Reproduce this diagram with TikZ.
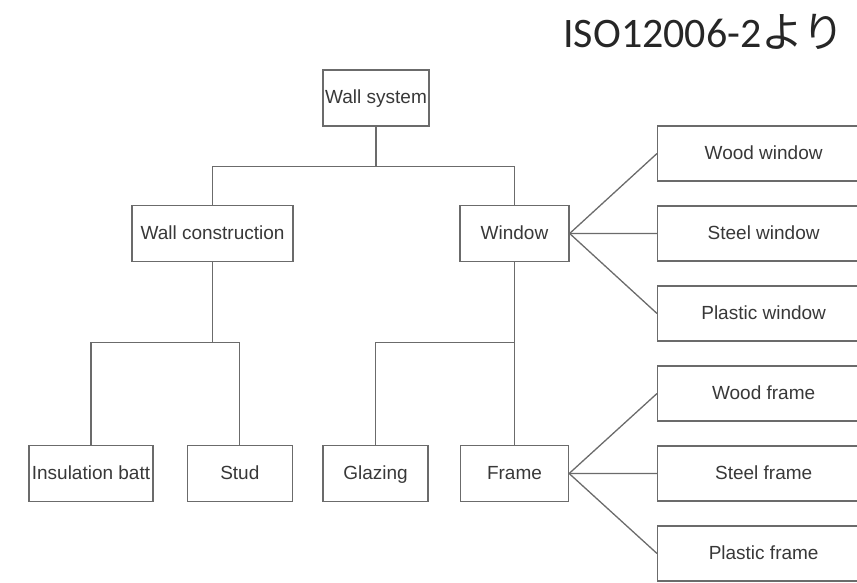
\documentclass[tikz,border=0pt]{standalone}
\usepackage{fontspec}
\setmainfont{Liberation Sans}
\newfontfamily\titlefont{Carlito}
\newfontfamily\jpfont{Noto Sans CJK JP}
\usetikzlibrary{positioning,calc}
\colorlet{boxline}{black!58}
\colorlet{boxtext}{black!78}
\tikzset{
  partbox/.style={draw=boxline, line width=1.3pt, text=boxtext, inner sep=0pt,
    font=\fontsize{19}{22}\selectfont, text height=15pt, text depth=3pt,
    minimum height=56pt},
  sidebox/.style={partbox, minimum width=212pt, minimum height=55pt},
  partline/.style={draw=boxline, line width=1.3pt}
}
\begin{document}
\begin{tikzpicture}[x=1pt, y=1pt]
    \useasboundingbox (0,0) rectangle (857,-583);
    \clip (0,0) rectangle (857,-583);
    \node[anchor=base east, inner sep=0pt, text=black!85] (title) at (845,-48)
      {\titlefont\fontsize{42}{48}\selectfont ISO12006-2\jpfont より};
    \node[partbox, minimum width=106pt] (wallsys) at (376,-98) {Wall system};
    \node[partbox, minimum width=161pt] (wallcon) at (212.5,-233.5) {Wall construction};
    \node[partbox, minimum width=109pt] (window) at (514.5,-233.5) {Window};
    \node[partbox, minimum width=124pt] (insul) at (91,-473.5) {Insulation batt};
    \node[partbox, minimum width=105pt, right=33pt of insul] (stud) {Stud};
    \node[partbox, minimum width=105pt] (glazing) at (375.5,-473.5) {Glazing};
    \node[partbox, minimum width=108pt] (frame) at (window |- glazing) {Frame};
    \node[sidebox, anchor=west] (woodwin) at (657,-153.5) {Wood window};
    \node[sidebox, below=23.7pt of woodwin] (steelwin) {Steel window};
    \node[sidebox, below=23.7pt of steelwin] (plasticwin) {Plastic window};
    \node[sidebox, below=23.7pt of plasticwin] (woodfr) {Wood frame};
    \node[sidebox, below=23.7pt of woodfr] (steelfr) {Steel frame};
    \node[sidebox, below=23.7pt of steelfr] (plasticfr) {Plastic frame};
    \coordinate (busA) at ($(wallsys.south)+(0,-40)$);
    \coordinate (busB) at ($(wallcon.south)+(0,-80)$);
    \coordinate (busC) at (window.south |- busB);
    \draw[partline] (wallsys.south) -- (busA);
    \draw[partline] (wallcon.north) |- (busA) -| (window.north);
    \draw[partline] (wallcon.south) -- (busB);
    \draw[partline] (insul.north) |- (busB) -| (stud.north);
    \draw[partline] (glazing.north) |- (busC);
    \draw[partline] (window.south) -- (frame.north);
    \foreach \leaf in {woodwin, steelwin, plasticwin}
      \draw[partline] (window.east) -- (\leaf.west);
    \foreach \leaf in {woodfr, steelfr, plasticfr}
      \draw[partline] (frame.east) -- (\leaf.west);
  \end{tikzpicture}
\end{document}
